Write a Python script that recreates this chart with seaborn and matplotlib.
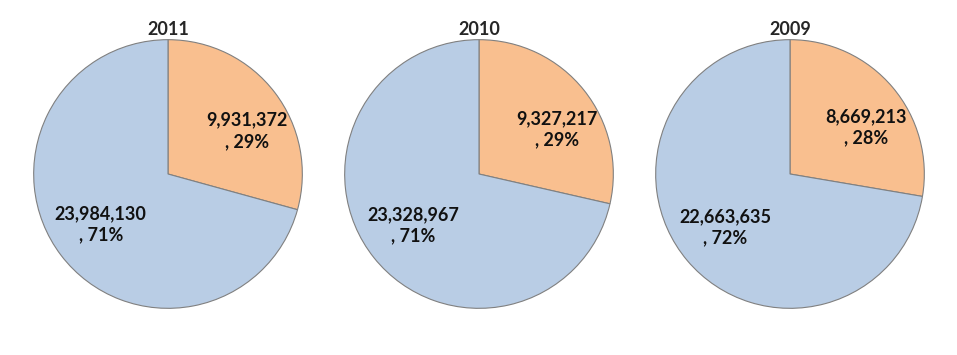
import matplotlib.pyplot as plt
import seaborn as sns

years = ["2011", "2010", "2009"]
orange_vals = [9931372, 9327217, 8669213]
blue_vals = [23984130, 23328967, 22663635]

sns.set_theme(style="white")
plt.rcParams['font.family'] = ['Lato', 'DejaVu Sans']

colors = ["#F9BF8F", "#B9CDE5"]
# small nudges of the label positions (Excel places them a bit differently)
nudges = [(0.05, -0.09), (0.04, 0.04)]

fig = plt.figure(figsize=(9.57, 3.55), dpi=100)
lefts = [33, 344, 655]

for left, yr, o, b in zip(lefts, years, orange_vals, blue_vals):
    ax = fig.add_axes([left / 957, 46 / 355, 270 / 957, 270 / 355])
    vals = [o, b]
    it = iter(vals)
    wedges, texts, autotexts = ax.pie(
        vals, colors=colors, startangle=90, counterclock=False,
        autopct=lambda p: f"{next(it):,}\n, {p:.0f}%", pctdistance=0.68,
        wedgeprops=dict(edgecolor="#808080", linewidth=0.8),
        textprops=dict(fontsize=13, fontweight="bold", color="#111111"))
    for t, (dx, dy) in zip(autotexts, nudges):
        x, y = t.get_position()
        t.set_position((x + dx, y + dy))
        t.set_linespacing(1.3)
    ax.set_xlim(-1.005, 1.005)
    ax.set_ylim(-1.005, 1.005)
    ax.set_title(yr, fontsize=13, fontweight="bold", pad=3)
    ax.set_aspect("equal")

fig.savefig("out.png", dpi=100)
